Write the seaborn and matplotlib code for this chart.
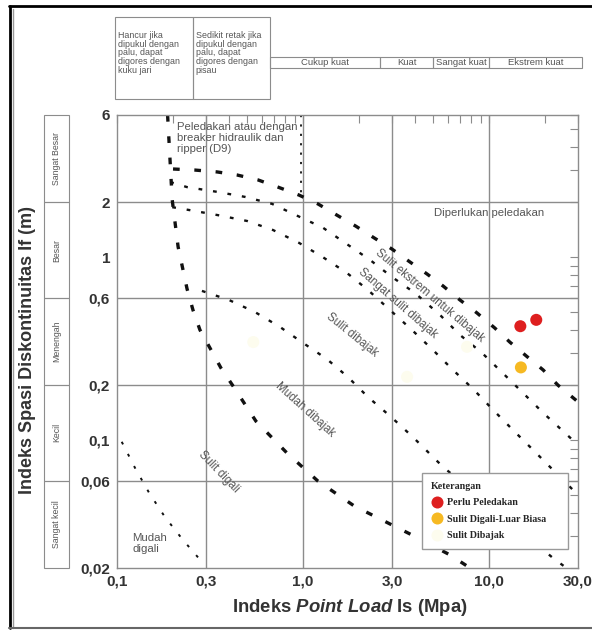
import numpy as np
import matplotlib
matplotlib.use("Agg")
import matplotlib.pyplot as plt
import matplotlib.transforms as mtransforms
from matplotlib.patches import Rectangle
from matplotlib.lines import Line2D
from matplotlib.ticker import NullFormatter
from matplotlib.font_manager import FontProperties
import seaborn as sns
import pandas as pd

# titik pengamatan (Is dalam MPa, If dalam m)
titik_kategori = ["Perlu Peledakan", "Perlu Peledakan", "Sulit Digali-Luar Biasa",
                  "Sulit Dibajak", "Sulit Dibajak", "Sulit Dibajak"]
titik_is = [14.7, 17.9, 14.8, 0.54, 3.62, 7.6]
titik_if = [0.42, 0.455, 0.25, 0.344, 0.222, 0.324]
kategori_urut = ["Perlu Peledakan", "Sulit Digali-Luar Biasa", "Sulit Dibajak"]
warna_kategori = ["#de1f1f", "#f6b922", "#fdfcee"]

# batas-batas zona (garis putus-putus)
# garis tebal curam: batas kiri zona D9 lalu Sulit digali / Mudah dibajak
batas1_is = [0.187, 0.198, 0.213, 0.238, 0.256, 0.279, 0.316, 0.362, 0.420, 0.558,
             0.819, 1.20, 1.88, 3.00, 3.85, 6.15, 7.89]
batas1_if = [6.0, 2.06, 1.14, 0.671, 0.515, 0.401, 0.319, 0.248, 0.198, 0.127,
             0.0851, 0.0598, 0.0437, 0.0344, 0.0303, 0.0236, 0.020]
# Mudah digali / Sulit digali
batas2_is = [0.106, 0.125, 0.149, 0.181, 0.226, 0.286]
batas2_if = [0.098, 0.0705, 0.0514, 0.038, 0.0285, 0.0216]
# Mudah dibajak / Sulit dibajak
batas3_is = [0.286, 0.400, 0.551, 0.751, 1.0, 1.34, 1.74, 2.23, 2.97, 3.89, 5.65, 22.0, 25.5]
batas3_if = [0.655, 0.584, 0.502, 0.416, 0.340, 0.278, 0.2216, 0.1723, 0.134, 0.104,
             0.0714, 0.0227, 0.0203]
# Sulit dibajak / Sangat sulit dibajak
batas4_is = [0.198, 0.247, 0.349, 0.50, 0.689, 0.95, 1.28, 1.72, 2.23, 2.93, 3.85,
             4.99, 6.39, 8.19, 10.5, 13.4, 17.2, 22.0, 30.0]
batas4_if = [1.88, 1.81, 1.70, 1.58, 1.41, 1.20, 1.0, 0.821, 0.663, 0.515, 0.40,
             0.311, 0.242, 0.1906, 0.1463, 0.1138, 0.0885, 0.0688, 0.0502]
# Sangat sulit dibajak / Sulit ekstrem
batas5_is = [0.193, 0.238, 0.345, 0.487, 0.681, 0.939, 1.28, 1.72, 2.29, 3.0, 3.99,
             5.44, 6.97, 9.15, 13.4, 19.5, 30.0]
batas5_if = [2.58, 2.42, 2.28, 2.14, 1.96, 1.68, 1.45, 1.18, 0.967, 0.781, 0.638,
             0.484, 0.376, 0.30, 0.2056, 0.141, 0.0942]
# garis tebal: atas zona D9 lalu Sulit ekstrem / Diperlukan peledakan
batas6_is = [0.20, 0.262, 0.345, 0.441, 0.572, 0.733, 0.95, 1.20, 1.52, 1.92, 2.37,
             3.0, 3.75, 4.63, 5.65, 6.97, 8.60, 10.7, 12.9, 15.8, 19.5, 23.4, 30.0]
batas6_if = [3.04, 3.0, 2.93, 2.82, 2.65, 2.42, 2.19, 1.96, 1.70, 1.48, 1.29, 1.11,
             0.943, 0.811, 0.697, 0.584, 0.496, 0.411, 0.344, 0.289, 0.242, 0.20, 0.162]
# batas kanan zona D9
batas7_is = [0.98, 0.98]
batas7_if = [6.0, 2.2]

# sumbu
x_ticks = [0.1, 0.3, 1.0, 3.0, 10.0, 30.0]
x_ticklabels = ["0,1", "0,3", "1,0", "3,0", "10,0", "30,0"]
y_ticks = [0.02, 0.06, 0.1, 0.2, 0.6, 1, 2, 6]
y_ticklabels = ["0,02", "0,06", "0,1", "0,2", "0,6", "1", "2", "6"]
grid_x = [0.3, 1.0, 3.0, 10.0]
grid_y = [0.06, 0.2, 0.6, 2.0]

# kelas spasi diskontinuitas (kiri)
spasi_kelas = ["Sangat kecil", "Kecil", "Menengah", "Besar", "Sangat Besar"]
spasi_batas = [0.02, 0.06, 0.2, 0.6, 2.0, 6.0]

# kelas kekuatan batuan (atas)
kuat_kelas = ["Hancur jika\ndipukul dengan\npalu, dapat\ndigores dengan\nkuku jari",
              "Sedikit retak jika\ndipukul dengan\npalu, dapat\ndigores dengan\npisau",
              "Cukup kuat", "Kuat", "Sangat kuat", "Ekstrem kuat"]
kuat_batas = [0.0975, 0.255, 0.665, 2.6, 5.0, 10.0, 31.5]

# label zona: teks, Is, If, rotasi
zona_label = [
    ("Peledakan atau dengan\nbreaker hidraulik dan\nripper (D9)", 0.21, 5.5, 0),
    ("Diperlukan peledakan", 10.0, 1.75, 0),
    ("Sulit ekstrem untuk dibajak", 4.81, 0.615, -40),
    ("Sangat sulit dibajak", 3.24, 0.563, -41),
    ("Sulit dibajak", 1.83, 0.376, -39),
    ("Mudah dibajak", 1.02, 0.146, -42),
    ("Sulit digali", 0.353, 0.067, -46),
    ("Mudah\ndigali", 0.121, 0.0272, 0),
]

sns.set_theme(style="white")
plt.rcParams["font.family"] = ["Liberation Sans", "DejaVu Sans"]
plt.rcParams["mathtext.fontset"] = "custom"
plt.rcParams["mathtext.rm"] = "Liberation Sans:bold"
plt.rcParams["mathtext.it"] = "Liberation Sans:italic:bold"

fig = plt.figure(figsize=(5.92, 6.30), dpi=100)
ax = fig.add_axes([117 / 592, 1 - 568 / 630, 461 / 592, 453 / 630])
ax.set_xscale("log")
ax.set_yscale("log")
ax.set_xlim(0.1, 30)
ax.set_ylim(0.02, 6)

grid_kw = dict(color="#8c8c8c", lw=1.0, zorder=0.5)
for gx in grid_x:
    ax.axvline(gx, **grid_kw)
for gy in grid_y:
    ax.axhline(gy, **grid_kw)

tebal = dict(color="#111111", lw=2.4, dashes=(2.0, 4.4), zorder=2)
tipis = dict(color="#111111", lw=1.7, dashes=(1.6, 4.6), zorder=2)
ax.plot(batas1_is, batas1_if, **tebal)
ax.plot(batas6_is, batas6_if, **tebal)
ax.plot(batas3_is, batas3_if, **tipis)
ax.plot(batas4_is, batas4_if, **tipis)
ax.plot(batas5_is, batas5_if, **tipis)
ax.plot(batas2_is, batas2_if, color="#111111", lw=1.4, dashes=(1.5, 5.5), zorder=2)
ax.plot(batas7_is, batas7_if, color="#111111", lw=1.3, dashes=(1.2, 4.0), zorder=2)

for teks, xi, yi, rot in zona_label:
    if rot == 0:
        ha = "center" if teks.startswith("Diperlukan") else "left"
        va = "top" if teks.startswith("Peledakan") else "center"
        ax.text(xi, yi, teks, ha=ha, va=va, fontsize=8.2, color="#555555",
                linespacing=1.1, zorder=3)
    else:
        ax.text(xi, yi, teks, ha="center", va="center", rotation=rot,
                rotation_mode="anchor", fontsize=8.3, color="#555555", zorder=3)

df = pd.DataFrame({"Is": titik_is, "If": titik_if, "kategori": titik_kategori})
sns.scatterplot(data=df, x="Is", y="If", hue="kategori", hue_order=kategori_urut,
                palette=warna_kategori, s=75, edgecolor="none", ax=ax, zorder=4)

ax.set_xticks(x_ticks)
ax.set_xticklabels(x_ticklabels)
ax.set_yticks(y_ticks)
ax.set_yticklabels(y_ticklabels)
ax.xaxis.set_minor_formatter(NullFormatter())
ax.yaxis.set_minor_formatter(NullFormatter())
ax.tick_params(which="both", direction="in", top=True, right=True, length=6,
               width=0.8, color="#8c8c8c", pad=5)
for lab in ax.get_xticklabels() + ax.get_yticklabels():
    lab.set_fontweight("bold")
    lab.set_fontsize(11)
    lab.set_color("#333333")
for sp in ax.spines.values():
    sp.set_color("#8c8c8c")
    sp.set_linewidth(1.0)
ax.set_xlabel("")
ax.set_ylabel("")

fig.text(28 / 592, 1 - 350 / 630, "Indeks Spasi Diskontinuitas If (m)", rotation=90,
         ha="center", va="center", fontsize=13, fontweight="bold", color="#333333")
fig.text(350 / 592, 1 - 607 / 630, r"Indeks $\mathit{Point\ Load}$ Is (Mpa)",
         ha="center", va="center", fontsize=13.3, fontweight="bold", color="#333333")

# kotak kelas spasi di kiri
tr_kiri = mtransforms.blended_transform_factory(fig.transFigure, ax.transData)
for i, nama in enumerate(spasi_kelas):
    y0, y1 = spasi_batas[i], spasi_batas[i + 1]
    ax.add_patch(Rectangle((44 / 592, y0), 25 / 592, y1 - y0, transform=tr_kiri,
                           fill=False, edgecolor="#8c8c8c", lw=0.8, clip_on=False))
    ax.text(56.5 / 592, np.sqrt(y0 * y1), nama, transform=tr_kiri, rotation=90,
            ha="center", va="center", fontsize=6.3, color="#555555", clip_on=False)

# kotak kelas kekuatan di atas
tr_atas = mtransforms.blended_transform_factory(ax.transData, fig.transFigure)
for i, nama in enumerate(kuat_kelas):
    x0, x1 = kuat_batas[i], kuat_batas[i + 1]
    if "\n" in nama:
        yb, yt = 1 - 99 / 630, 1 - 17 / 630
        ax.add_patch(Rectangle((x0, yb), x1 - x0, yt - yb, transform=tr_atas,
                               fill=False, edgecolor="#8c8c8c", lw=0.8, clip_on=False))
        ax.text(x0 * 1.04, 1 - 31 / 630, nama, transform=tr_atas, ha="left", va="top",
                fontsize=6.4, color="#555555", linespacing=0.95, clip_on=False)
    else:
        yb, yt = 1 - 68 / 630, 1 - 57 / 630
        ax.add_patch(Rectangle((x0, yb), x1 - x0, yt - yb, transform=tr_atas,
                               fill=False, edgecolor="#8c8c8c", lw=0.8, clip_on=False))
        ax.text(np.sqrt(x0 * x1), (yb + yt) / 2, nama, transform=tr_atas, ha="center",
                va="center", fontsize=6.8, color="#555555", clip_on=False)

# legenda
serif_b = FontProperties(family="Liberation Serif", weight="bold", size=7.2)
sns.move_legend(ax, "upper left", bbox_to_anchor=(0.662, 0.035, 0.316, 0.175),
                mode="expand", title="Keterangan", frameon=True, fancybox=False,
                edgecolor="#999999", framealpha=1, prop=serif_b,
                title_fontproperties=serif_b, alignment="left", borderpad=0.9,
                labelspacing=0.75, handletextpad=0.4, handlelength=1.2,
                borderaxespad=0)

# bingkai gambar
fig.add_artist(Line2D([9 / 592, 1], [1 - 6 / 630, 1 - 6 / 630], transform=fig.transFigure,
                      color="black", lw=2.0))
fig.add_artist(Line2D([10 / 592, 10 / 592], [1 - 6 / 630, 1 - 628 / 630],
                      transform=fig.transFigure, color="black", lw=2.0))
fig.add_artist(Line2D([13 / 592, 13 / 592], [1 - 9 / 630, 1 - 628 / 630],
                      transform=fig.transFigure, color="#999999", lw=1.0))
fig.add_artist(Line2D([9 / 592, 1], [1 - 628 / 630, 1 - 628 / 630],
                      transform=fig.transFigure, color="#666666", lw=1.5))

fig.savefig("out.png", dpi=100)
